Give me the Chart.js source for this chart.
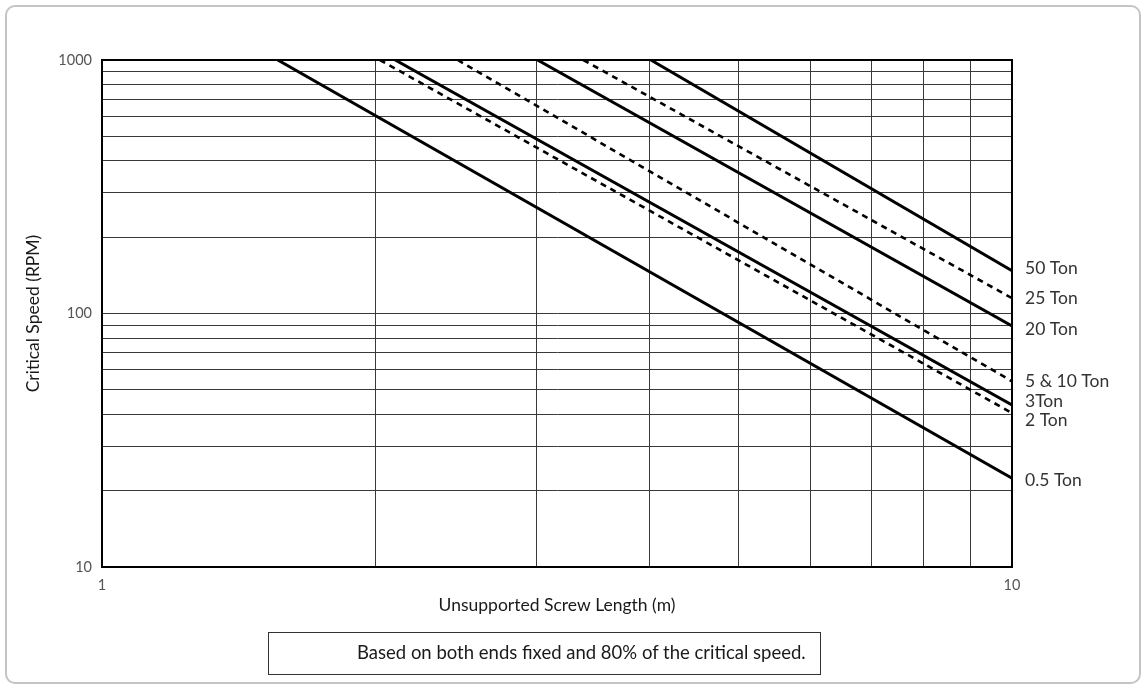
<!DOCTYPE html>
<html>
<head>
<meta charset="utf-8">
<script src="https://cdn.jsdelivr.net/npm/chart.js@4"></script>
<style>
  html, body { margin:0; padding:0; background:#fff; }
  #wrap { position:relative; width:1146px; height:688px; }
  #card { position:absolute; left:5px; top:5px; width:1132px; height:675px; border:2px solid #c4c4c4; border-radius:10px; }
  canvas { position:absolute; left:0; top:0; }
  #note { position:absolute; left:268px; top:632px; width:463px; height:38px; border:1px solid #333;
          font-family:Lato, 'Open Sans', sans-serif; font-size:18.5px; color:#1a1a1a; padding:0 0 3px 88px;
          display:flex; align-items:center; justify-content:flex-start; box-sizing:content-box; white-space:nowrap; }
</style>
</head>
<body>
<div id="wrap">
  <div id="card"></div>
  <canvas id="c" width="1146" height="688"></canvas>
  <div id="note">Based on both ends fixed and 80% of the critical speed.</div>
</div>
<script>
// ---- data ----
const seriesNames  = ['0.5 Ton', '2 Ton', '3 Ton', '5 & 10 Ton', '20 Ton', '25 Ton', '50 Ton'];
const labelTexts   = ['0.5 Ton', '2 Ton', '3Ton', '5 & 10 Ton', '20 Ton', '25 Ton', '50 Ton'];
const startLength  = [1.56, 2.02, 2.10, 2.46, 3.01, 3.38, 4.01];   // m, where each line enters at 1000 RPM
const startSpeed   = [1000, 1000, 1000, 1000, 1000, 1000, 1000];
const endLength    = [10, 10, 10, 10, 10, 10, 10];
const endSpeed     = [22.4, 40.5, 43.6, 54, 89.3, 115, 147.5];      // RPM at 10 m
const xTickValues  = [1, 2, 3, 4, 5, 6, 7, 8, 9, 10];
const xTickLabels  = ['1', '10'];
const yTickValues  = [10, 20, 30, 40, 50, 60, 70, 80, 90, 100, 200, 300, 400, 500, 600, 700, 800, 900, 1000];
const yTickLabels  = ['10', '100', '1000'];

// ---- styles ----
const DASHED = new Set(['2 Ton', '5 & 10 Ton', '25 Ton']);
const LABEL_NUDGE = { '3 Ton': -4, '2 Ton': 7, '50 Ton': -2, '20 Ton': 3, '0.5 Ton': 2 };
const FONT = "Lato, 'Open Sans', sans-serif";

const datasets = seriesNames.map((name, i) => ({
  label: name,
  data: [{ x: startLength[i], y: startSpeed[i] }, { x: endLength[i], y: endSpeed[i] }],
  borderColor: '#000',
  borderWidth: DASHED.has(name) ? 2.6 : 3,
  borderDash: DASHED.has(name) ? [6, 5] : [],
  pointRadius: 0,
  fill: false,
  tension: 0
}));

const framePlugin = {
  id: 'frame',
  afterDraw(chart) {
    const { ctx, chartArea: a, scales } = chart;
    ctx.save();
    ctx.strokeStyle = '#000';
    ctx.lineWidth = 2;
    ctx.strokeRect(a.left, a.top, a.right - a.left, a.bottom - a.top);
    // end labels
    ctx.font = '17.5px ' + FONT;
    ctx.fillStyle = '#333';
    ctx.textBaseline = 'middle';
    ctx.textAlign = 'left';
    seriesNames.forEach((name, i) => {
      const y = scales.y.getPixelForValue(endSpeed[i]) + (LABEL_NUDGE[name] || 0);
      ctx.fillText(labelTexts[i], a.right + 13, y);
    });
    ctx.restore();
  }
};

new Chart(document.getElementById('c'), {
  type: 'line',
  data: { datasets },
  options: {
    responsive: false,
    animation: false,
    layout: { padding: { left: 12, top: 60, right: 134, bottom: 71 } },
    plugins: { legend: { display: false }, tooltip: { enabled: false } },
    scales: {
      x: {
        type: 'logarithmic', min: 1, max: 10,
        afterBuildTicks: s => { s.ticks = xTickValues.map(v => ({ value: v })); },
        afterFit: s => { s.height = 50; },
        ticks: {
          autoSkip: false, maxRotation: 0, padding: 10,
          color: '#555', font: { family: FONT, size: 14.5 },
          callback: v => xTickLabels.includes(String(v)) ? String(v) : ''
        },
        grid: { color: '#3a3a3a', lineWidth: 1, drawTicks: false },
        border: { display: true, color: '#000', width: 2 },
        title: { display: true, text: 'Unsupported Screw Length (m)', color: '#1a1a1a',
                 font: { family: FONT, size: 17.5 }, padding: { top: 0, bottom: 1 } }
      },
      y: {
        type: 'logarithmic', min: 10, max: 1000,
        afterBuildTicks: s => { s.ticks = yTickValues.map(v => ({ value: v })); },
        afterFit: s => { s.width = 90; },
        ticks: {
          autoSkip: false, padding: 10,
          color: '#555', font: { family: FONT, size: 14.5 },
          callback: v => yTickLabels.includes(String(v)) ? String(v) : ''
        },
        grid: { color: '#3a3a3a', lineWidth: 1, drawTicks: false },
        border: { display: true, color: '#000', width: 2 },
        title: { display: true, text: 'Critical Speed (RPM)', color: '#1a1a1a',
                 font: { family: FONT, size: 17.5 }, padding: { top: 11, bottom: 0 } }
      }
    }
  },
  plugins: [framePlugin]
});
</script>
</body>
</html>
